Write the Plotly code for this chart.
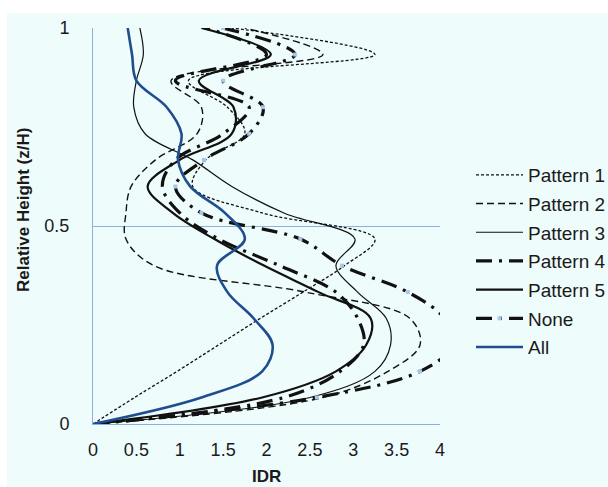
import plotly.graph_objects as go

# Relative height of each storey level (z/H) for a 15-storey frame
relative_height = [0, 0.067, 0.133, 0.2, 0.267, 0.333, 0.4, 0.467, 0.533,
                   0.6, 0.667, 0.733, 0.8, 0.867, 0.933, 1.0]

# Inter-storey drift ratio (IDR) per storey for each loading pattern
idr_pattern1 = [0, 0.48, 0.97, 1.45, 1.93, 2.42, 2.9, 3.25, 1.95, 1.15, 1.3, 1.75, 1.55, 1.1, 3.25, 1.6]
idr_pattern2 = [0, 2.65, 3.4, 3.77, 3.65, 2.45, 0.7, 0.38, 0.38, 0.44, 0.72, 1.2, 1.25, 0.9, 2.65, 1.75]
idr_pattern3 = [0, 2.5, 3.25, 3.43, 3.38, 3.05, 2.8, 3.02, 2.2, 1.6, 1.15, 0.6, 0.47, 0.5, 0.58, 0.54]
idr_pattern4 = [0, 2.2, 2.85, 3.12, 3.05, 2.8, 2.15, 1.45, 1.0, 0.8, 0.95, 1.5, 1.8, 0.95, 2.0, 1.3]
idr_pattern5 = [0, 1.95, 2.8, 3.15, 3.2, 2.6, 1.97, 1.4, 0.92, 0.63, 1.0, 1.6, 1.62, 1.22, 2.05, 1.25]
idr_none = [0, 2.58, 3.77, 4.15, 4.05, 3.63, 2.87, 2.39, 1.25, 0.95, 1.28, 1.8, 1.96, 1.5, 2.33, 1.5]
idr_all = [0, 1.25, 1.95, 2.07, 1.85, 1.55, 1.43, 1.75, 1.52, 1.12, 0.98, 1.02, 0.85, 0.5, 0.45, 0.40]

x_ticks = [0, 0.5, 1, 1.5, 2, 2.5, 3, 3.5, 4]
x_tick_text = ["0", "0.5", "1", "1.5", "2", "2.5", "3", "3.5", "4"]
y_ticks = [0, 0.5, 1]
y_tick_text = ["0", "0.5", "1"]

BG = "#effcfc"
GRID = "#8fb0dd"
NAVY = "#1f4e8f"
FONT = "Liberation Sans, Arial, sans-serif"

series = [
    ("Pattern 1", idr_pattern1, dict(color="#111111", width=1.3, dash="3px,2px"), None),
    ("Pattern 2", idr_pattern2, dict(color="#111111", width=1.4, dash="7px,4px"), None),
    ("Pattern 3", idr_pattern3, dict(color="#111111", width=1.2), None),
    ("Pattern 4", idr_pattern4, dict(color="#111111", width=3.2, dash="16px,7px,3px,7px"), None),
    ("Pattern 5", idr_pattern5, dict(color="#111111", width=2.2), None),
    ("None", idr_none, dict(color="#111111", width=3.2, dash="16px,7px,3px,7px"),
     dict(color="#a9c6ec", size=4, symbol="square")),
    ("All", idr_all, dict(color=NAVY, width=2.6), None),
]

fig = go.Figure()
for name, xs, line, marker in series:
    fig.add_trace(go.Scatter(
        x=xs, y=relative_height, name=name, legendgroup=name,
        mode="lines+markers" if marker else "lines",
        line=dict(shape="spline", smoothing=1.0, **line),
        marker=marker if marker else None,
    ))

# light page frame: white strip along top and left, cyan panel elsewhere
fig.add_shape(type="rect", xref="paper", yref="paper", layer="below",
              x0=(7 - 93) / 347, x1=(620 - 93) / 347,
              y0=(424 - 500) / 396, y1=(424 - 13) / 396,
              fillcolor=BG, line=dict(width=0))

fig.update_layout(
    width=608, height=487,
    margin=dict(l=93, r=168, t=28, b=63, autoexpand=False),
    paper_bgcolor="white",
    plot_bgcolor=BG,
    font=dict(family=FONT, size=18, color="#1a1a1a"),
    showlegend=True,
    legend=dict(x=(471 - 93) / 347, xanchor="left",
                y=(424 - 261) / 396, yanchor="middle",
                bgcolor="rgba(0,0,0,0)", font=dict(size=19),
                traceorder="grouped", tracegroupgap=1, itemwidth=47),
    xaxis=dict(range=[0, 4], tickvals=x_ticks, ticktext=x_tick_text,
               showgrid=False, zeroline=False, showline=True,
               linecolor=GRID, linewidth=1, ticks="outside", ticklen=9,
               tickcolor="rgba(0,0,0,0)", tickfont=dict(size=18)),
    yaxis=dict(range=[0, 1], tickvals=y_ticks, ticktext=y_tick_text,
               showgrid=True, gridcolor=GRID, gridwidth=1, zeroline=False,
               showline=True, linecolor=GRID, linewidth=1, ticks="outside",
               ticklen=19, tickcolor="rgba(0,0,0,0)", tickfont=dict(size=18)),
    annotations=[
        dict(text="<b>Relative Height (z/H)</b>", xref="paper", yref="paper",
             x=(24 - 93) / 347, y=(424 - 210) / 396, textangle=-90,
             showarrow=False, font=dict(size=17, family=FONT),
             xanchor="center", yanchor="middle"),
        dict(text="<b>IDR</b>", xref="paper", yref="paper",
             x=0.5, y=(424 - 476) / 396, showarrow=False,
             font=dict(size=17, family=FONT), xanchor="center", yanchor="middle"),
    ],
)

fig.write_html("out.html")
